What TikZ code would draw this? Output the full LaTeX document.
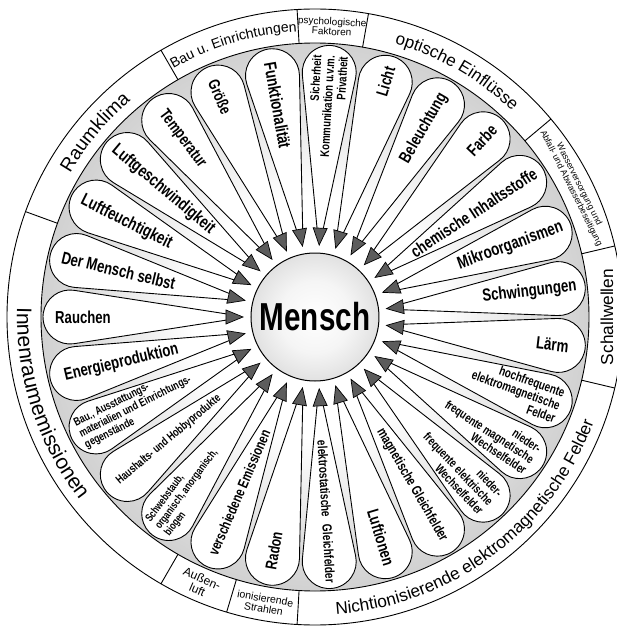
\documentclass[tikz,border=0pt]{standalone}
\usepackage{fontspec}
\setmainfont{Liberation Sans}
\newfontfamily\petalfont[FakeStretch=0.76]{Liberation Sans}
\newfontfamily\ringfont{Liberation Sans}
\usetikzlibrary{decorations.text}
\pgfdeclareradialshading{gapshade}{\pgfpoint{0bp}{0bp}}{color(0bp)=(white); color(11bp)=(white); color(24bp)=(black!17); color(40bp)=(black!32); color(50bp)=(black!42)}
\pgfdeclareradialshading{sphereshade}{\pgfpoint{0bp}{0bp}}{color(0bp)=(white); color(14bp)=(white!96!black); color(34bp)=(black!18); color(50bp)=(black!42)}
\newcommand\petalsize[2]{\petalfont\bfseries\fontsize{#1}{#2}\selectfont}
\newcommand\ringsize[1]{\ringfont\fontsize{#1}{#1}\selectfont}
\begin{document}
\begin{tikzpicture}[x=1pt,y=1pt,
  petal/.style={draw=black, fill=white, line width=0.9pt, line join=round},
  arrowhd/.style={draw=black, fill=black!64, line width=0.7pt},
  plab/.style={inner sep=0pt, text=black},
  rlab/.style={inner sep=0pt, text=black, align=center},
  sepline/.style={draw=black, line width=0.9pt},
  ringline/.style={draw=black, line width=0.9pt}]
\useasboundingbox (-315,-310) rectangle (302,317);
\fill[white] (-315,-310) rectangle (302,317);
% background of the petal zone
\shade[shading=gapshade] (0,0) circle[radius=274];
% petals with arrowheads
\foreach \k in {0,...,26}{
  \pgfmathsetmacro\ang{180-360/27*\k}
  \begin{scope}[rotate=\ang]
    \draw[petal] (88,-3) -- (240.86,-26.68) arc[start angle=-98.81, end angle=98.81, radius=27] -- (88,3) -- cycle;
    \draw[arrowhd] (89,-7) -- (72,0) -- (89,7) -- cycle;
  \end{scope}
}
% rings
\draw[ringline] (0,0) circle[radius=274];
\draw[ringline] (0,0) circle[radius=308];
\foreach \s in {160,120,93.333,80,40,13.333,-13.333,-93.333,-106.667,-120}
  \draw[sepline] (\s:274) -- (\s:308);
% centre
\node[circle, draw=black, line width=1pt, minimum size=128, inner sep=0pt, shade, shading=sphereshade, font=\petalsize{39}{39}] (mensch) at (0,0) {Mensch};
% petal labels
\node[plab, rotate=0, font=\petalsize{17.3}{18}] (p0) at (180:232) {Rauchen};
\node[plab, rotate=-13.333, font=\petalsize{17.3}{18}] (p1) at (166.667:202) {Der Mensch selbst};
\node[plab, rotate=-26.667, font=\petalsize{17.5}{18}] (p2) at (153.333:211) {Luftfeuchtigkeit};
\node[plab, rotate=-40, font=\petalsize{17.5}{18}] (p3) at (140:198) {Luftgeschwindigkeit};
\node[plab, rotate=-53.333, font=\petalsize{16.5}{18}] (p4) at (126.667:222) {Temperatur};
\node[plab, rotate=-66.667, font=\petalsize{16}{18}] (p5) at (113.333:240) {Größe};
\node[plab, rotate=-80, font=\petalsize{17.5}{18}] (p6) at (100:215) {Funktionalität};
\node[plab, rotate=86.667, align=right, font=\petalsize{12.5}{13.2}] (p7) at (86.667:211) {Sicherheit\\Kommunikation u.v.m.\\Privatheit};
\node[plab, rotate=73.333, font=\petalsize{16.5}{18}] (p8) at (73.333:246) {Licht};
\node[plab, rotate=60, font=\petalsize{17}{18}] (p9) at (60:218) {Beleuchtung};
\node[plab, rotate=46.667, font=\petalsize{17}{18}] (p10) at (46.667:243) {Farbe};
\node[plab, rotate=33.333, font=\petalsize{17}{18}] (p11) at (33.333:190) {chemische Inhaltsstoffe};
\node[plab, rotate=20, font=\petalsize{17.5}{18}] (p12) at (20:208) {Mikroorganismen};
\node[plab, rotate=6.667, font=\petalsize{17.5}{18}] (p13) at (6.667:216) {Schwingungen};
\node[plab, rotate=-6.667, font=\petalsize{17.5}{18}] (p14) at (-6.667:239) {Lärm};
\node[plab, rotate=-20, align=right, font=\petalsize{13}{13.6}] (p15) at (-20:214) {hochfrequente\\elektromagnetische\\Felder};
\node[plab, rotate=-33.333, align=right, font=\petalsize{12.4}{13.2}] (p16) at (-33.333:209) {nieder-\\frequente magnetische\\Wechselfelder};
\node[plab, rotate=-46.667, align=right, font=\petalsize{12.4}{13.2}] (p17) at (-46.667:209) {nieder-\\frequente elektrische\\Wechselfelder};
\node[plab, rotate=-60, font=\petalsize{13.9}{15}] (p18) at (-60:194) {magnetische Gleichfelder};
\node[plab, rotate=-73.333, font=\petalsize{16.8}{18}] (p19) at (-73.333:230) {Luftionen};
\node[plab, rotate=-86.667, font=\petalsize{13.3}{15}] (p20) at (-86.667:195) {elektrostatische\hspace{0.55em}Gleichfelder};
\node[plab, rotate=80, font=\petalsize{16}{18}] (p21) at (-100:237) {Radon};
\node[plab, rotate=66.667, font=\petalsize{14.5}{16}] (p22) at (-113.333:191) {verschiedene Emissionen};
\node[plab, rotate=53.333, align=left, font=\petalsize{11}{11.8}] (p23) at (-126.667:215) {Schwebstaub,\\organisch, anorganisch,\\biogen};
\node[plab, rotate=40, font=\petalsize{11.7}{13}] (p24) at (-140:191) {Haushalts- und Hobbyprodukte};
\node[plab, rotate=26.667, align=left, font=\petalsize{11.5}{12.2}] (p25) at (-153.333:201) {Bau., Ausstattungs-\\materialien und Einrichtungs-\\gegenstände};
\node[plab, rotate=13.333, font=\petalsize{17.3}{18}] (p26) at (-166.667:199) {Energieproduktion};
% ring labels along arcs
\path[decorate, decoration={text along path, text align=center, text={|\ringsize{19}|Raumklima}}] (160:284) arc[start angle=160, end angle=120, radius=284];
\path[decorate, decoration={text along path, text align=center, text={|\ringsize{14}|Bau u. Einrichtungen}}] (120:286) arc[start angle=120, end angle=93.333, radius=286];
\path[decorate, decoration={text along path, text align=center, text={|\ringsize{17}|optische Einflüsse}}] (80:285) arc[start angle=80, end angle=40, radius=285];
\path[decorate, decoration={text along path, text align=center, text={|\ringsize{21}|Innenraumemissionen}}] (160:298) arc[start angle=160, end angle=236, radius=298];
\path[decorate, decoration={text along path, text align=center, text={|\ringsize{17.2}|Nichtionisierende elektromagnetische Felder}}] (-93.333:298) arc[start angle=-93.333, end angle=-13.333, radius=298];
% straight ring labels
\node[rlab, rotate=90, font=\ringsize{17.3}] (schall) at (0:292) {Schallwellen};
\node[rlab, rotate=-63.333, font=\ringsize{8.8}] (wasser) at (26.667:291) {Wasserversorgung und\\Abfall- und Abwasserbeseitigung};
\node[rlab, rotate=-3.333, font=\ringsize{10}] (psych) at (86.667:291) {psychologische\\Faktoren};
\node[rlab, rotate=-10, font=\ringsize{10.5}] (ionis) at (-100:291) {ionisierende\\Strahlen};
\node[rlab, rotate=-23.333, font=\ringsize{12}] (aussen) at (-113.333:291) {Außen-\\luft};
\end{tikzpicture}
\end{document}
